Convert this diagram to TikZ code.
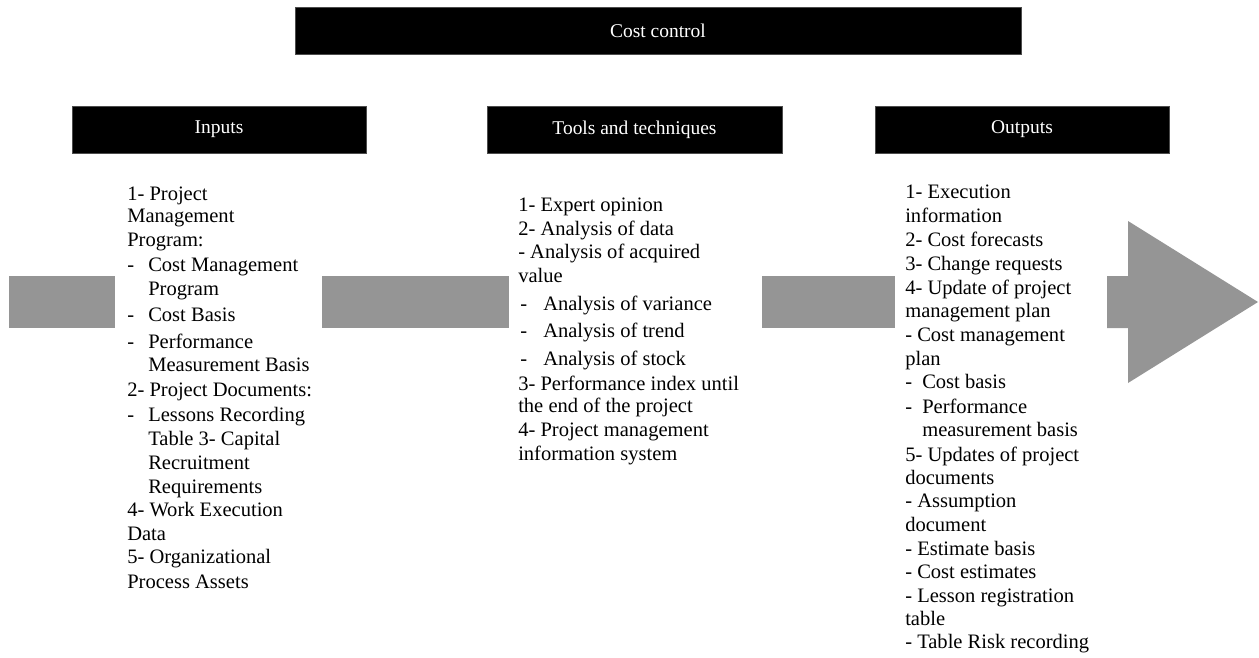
\documentclass[tikz,border=0pt]{standalone}
\usepackage{fontspec}
\setmainfont{Liberation Serif}
\begin{document}
\begin{tikzpicture}[x=0.75pt,y=-0.75pt,
  headbox/.style={fill=black,draw=black!70,line width=0.4pt,text=white,
    font=\fontsize{14.6}{16}\selectfont,inner sep=0pt},
  bodytext/.style={anchor=mid west,inner sep=0pt,
    font=\fontsize{15.4}{18}\selectfont},
  flow/.style={fill=arrowgray}]
\definecolor{arrowgray}{RGB}{149,149,149}
\useasboundingbox (0,0) rectangle (1259,657);

% title and column headers
\node[headbox,minimum width=726*0.75pt,minimum height=47*0.75pt] (title) at (658,30.5) {Cost control};
\node[headbox,minimum width=294*0.75pt,minimum height=47*0.75pt] (inputs) at (219,129.5) {Inputs};
\node[headbox,minimum width=295*0.75pt,minimum height=47*0.75pt] (tools) at (634.5,129.5) {Tools and techniques};
\node[headbox,minimum width=294*0.75pt,minimum height=47*0.75pt] (outputs) at (1022,129.5) {Outputs};

% the process arrow, broken by the three text columns
\fill[flow] (9,276) rectangle (115,328);
\fill[flow] (322,276) rectangle (509,328);
\fill[flow] (762,276) rectangle (895,328);
\fill[flow] (1107,276) -- (1128,276) -- (1128,221) -- (1258,302)
  -- (1128,383) -- (1128,328) -- (1107,328) -- cycle;

% inputs
\foreach \y/\x/\t [count=\i] in {
  197/127/1- Project,
  219/127/Management,
  243/127/Program:,
  268/127/-,
  268/148/Cost Management,
  292/148/Program,
  318/127/-,
  318/148/Cost Basis,
  345/127/-,
  345/148/Performance,
  368/148/Measurement Basis,
  393/127/2- Project Documents:,
  418/127/-,
  418/148/Lessons Recording,
  442/148/Table 3- Capital,
  466/148/Recruitment,
  490/148/Requirements,
  513/127/4- Work Execution,
  537/127/Data,
  560/127/5- Organizational,
  585/127/Process Assets}
  \node[bodytext] (in\i) at (\x,\y) {\t};

% tools and techniques
\foreach \y/\x/\t [count=\i] in {
  208/518/1- Expert opinion,
  232/518/2- Analysis of data,
  255/518/- Analysis of acquired,
  279/518/value,
  307/520/-,
  307/543/Analysis of variance,
  334/520/-,
  334/543/Analysis of trend,
  362/520/-,
  362/543/Analysis of stock,
  387/518/3- Performance index until,
  409/518/the end of the project,
  433/518/4- Project management,
  457/518/information system}
  \node[bodytext] (tt\i) at (\x,\y) {\t};

% outputs
\foreach \y/\x/\t [count=\i] in {
  195/905/1- Execution,
  219/905/information,
  243/905/2- Cost forecasts,
  267/905/3- Change requests,
  291/905/4- Update of project,
  314/905/management plan,
  338/905/- Cost management,
  362/905/plan,
  385/905/-,
  385/922/Cost basis,
  410/905/-,
  410/922/Performance,
  433/922/measurement basis,
  458/905/5- Updates of project,
  481/905/documents,
  504/905/- Assumption,
  528/905/document,
  552/905/- Estimate basis,
  575/905/- Cost estimates,
  599/905/- Lesson registration,
  622/905/table,
  645/905/- Table Risk recording}
  \node[bodytext] (out\i) at (\x,\y) {\t};
\end{tikzpicture}
\end{document}
